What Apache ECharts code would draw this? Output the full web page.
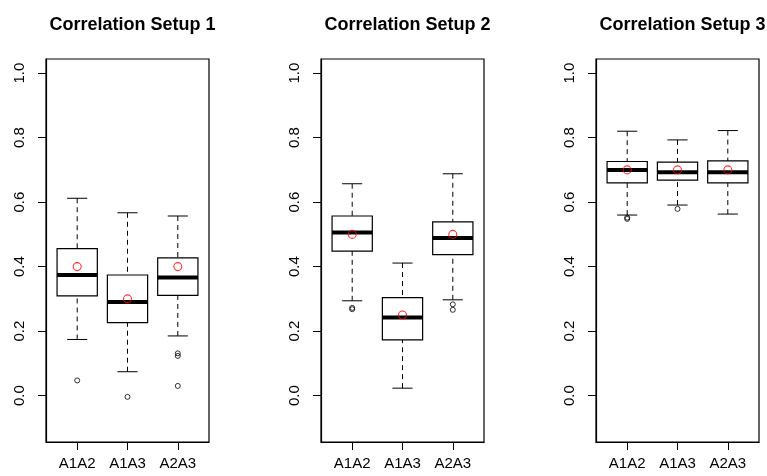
<!DOCTYPE html>
<html>
<head>
<meta charset="utf-8">
<script src="https://cdn.jsdelivr.net/npm/echarts@6/dist/echarts.min.js"></script>
<style>
  html, body { margin: 0; padding: 0; background: #fff; }
  #chart { width: 767px; height: 476px; }
</style>
</head>
<body>
<div id="chart"></div>
<script>
  var categories = ['A1A2', 'A1A3', 'A2A3'];
  var titles = ['Correlation Setup 1', 'Correlation Setup 2', 'Correlation Setup 3'];
  var yTicks = [0, 0.2, 0.4, 0.6, 0.8, 1.0];

  // [lower whisker, Q1, median, Q3, upper whisker] per category
  var stats1 = [[0.174, 0.309, 0.374, 0.456, 0.612], [0.074, 0.226, 0.290, 0.374, 0.567], [0.185, 0.311, 0.366, 0.427, 0.557]];
  var stats2 = [[0.294, 0.448, 0.506, 0.557, 0.657], [0.023, 0.173, 0.242, 0.304, 0.411], [0.297, 0.437, 0.489, 0.539, 0.688]];
  var stats3 = [[0.560, 0.660, 0.700, 0.726, 0.820], [0.591, 0.668, 0.693, 0.724, 0.793], [0.563, 0.660, 0.693, 0.728, 0.822]];

  var outliers1 = [[0.047], [-0.004], [0.131, 0.123, 0.030]];
  var outliers2 = [[0.268, 0.272], [], [0.283, 0.266]];
  var outliers3 = [[0.548, 0.552], [0.579], []];

  var means1 = [0.40, 0.30, 0.40];
  var means2 = [0.50, 0.25, 0.50];
  var means3 = [0.70, 0.70, 0.70];

  var panels = [
    { stats: stats1, out: outliers1, mean: means1 },
    { stats: stats2, out: outliers2, mean: means2 },
    { stats: stats3, out: outliers3, mean: means3 }
  ];
  var gridLeft = [46, 321, 596];
  var xMin = 0.38, xMax = 3.62;
  var font = 'Liberation Sans, Arial, Helvetica, sans-serif';

  // R-style box: dashed whiskers, short caps, thick median
  function renderBox(params, api) {
    var x = api.value(0);
    var p = [1, 2, 3, 4, 5].map(function (i) { return api.coord([x, api.value(i)]); });
    var cx = p[0][0];
    var half = api.size([0.4, 0])[0];
    var cap = api.size([0.2, 0])[0];
    var solid = { stroke: '#000', lineWidth: 1 };
    var dashed = { stroke: '#000', lineWidth: 1, lineDash: [5, 4] };
    return {
      type: 'group',
      children: [
        { type: 'line', shape: { x1: cx, y1: p[0][1], x2: cx, y2: p[1][1] }, style: dashed },
        { type: 'line', shape: { x1: cx, y1: p[4][1], x2: cx, y2: p[3][1] }, style: dashed },
        { type: 'line', shape: { x1: cx - cap, y1: p[0][1], x2: cx + cap, y2: p[0][1] }, style: solid },
        { type: 'line', shape: { x1: cx - cap, y1: p[4][1], x2: cx + cap, y2: p[4][1] }, style: solid },
        { type: 'rect', shape: { x: cx - half, y: p[3][1], width: half * 2, height: p[1][1] - p[3][1] },
          style: { fill: '#fff', stroke: '#000', lineWidth: 1.2 } },
        { type: 'line', shape: { x1: cx - half, y1: p[2][1], x2: cx + half, y2: p[2][1] },
          style: { stroke: '#000', lineWidth: 4 } }
      ]
    };
  }

  var grid = [], xAxis = [], yAxis = [], series = [], title = [];
  panels.forEach(function (pan, k) {
    grid.push({ left: gridLeft[k], top: 59, width: 163, height: 383, show: true,
      borderColor: '#000', borderWidth: 1.2, backgroundColor: 'transparent' });
    title.push({ text: titles[k], left: gridLeft[k] + 81.5, top: 11, textAlign: 'center',
      textStyle: { fontFamily: font, fontSize: 18, fontWeight: 'bold', color: '#000' } });
    xAxis.push({ type: 'value', gridIndex: k, min: xMin, max: xMax, position: 'bottom',
      axisLine: { show: true, onZero: false, lineStyle: { color: '#000', width: 1.2 } },
      splitLine: { show: false },
      axisTick: { show: true, customValues: [1, 2, 3], length: 8, lineStyle: { color: '#000' } },
      axisLabel: { customValues: [1, 2, 3], margin: 14, fontFamily: font, fontSize: 15, color: '#000',
        formatter: function (v) { return categories[Math.round(v) - 1]; } } });
    yAxis.push({ type: 'value', gridIndex: k, min: -0.144, max: 1.044, position: 'left',
      axisLine: { show: true, onZero: false, lineStyle: { color: '#000', width: 1.2 } },
      splitLine: { show: false },
      axisTick: { show: true, customValues: yTicks, length: 8, lineStyle: { color: '#000', width: 1 } },
      axisLabel: { customValues: yTicks, rotate: 90, margin: 19, fontFamily: font, fontSize: 15, color: '#000',
        formatter: function (v) { return v.toFixed(1); } } });

    series.push({ type: 'custom', xAxisIndex: k, yAxisIndex: k, renderItem: renderBox,
      encode: { x: 0, y: [1, 2, 3, 4, 5] },
      data: pan.stats.map(function (s, i) { return [i + 1].concat(s); }) });

    var outPts = [];
    pan.out.forEach(function (list, i) {
      list.forEach(function (v) { outPts.push([i + 1, v]); });
    });
    series.push({ type: 'scatter', xAxisIndex: k, yAxisIndex: k, symbol: 'circle', symbolSize: 5,
      itemStyle: { color: 'rgba(0,0,0,0)', borderColor: '#000', borderWidth: 1 }, data: outPts });
    series.push({ type: 'scatter', xAxisIndex: k, yAxisIndex: k, symbol: 'circle', symbolSize: 8,
      itemStyle: { color: 'rgba(0,0,0,0)', borderColor: '#f00', borderWidth: 1.1 },
      data: pan.mean.map(function (m, i) { return [i + 1, m]; }) });
  });

  var chart = echarts.init(document.getElementById('chart'));
  chart.setOption({
    animation: false,
    backgroundColor: '#fff',
    title: title,
    grid: grid,
    xAxis: xAxis,
    yAxis: yAxis,
    series: series
  });
</script>
</body>
</html>
